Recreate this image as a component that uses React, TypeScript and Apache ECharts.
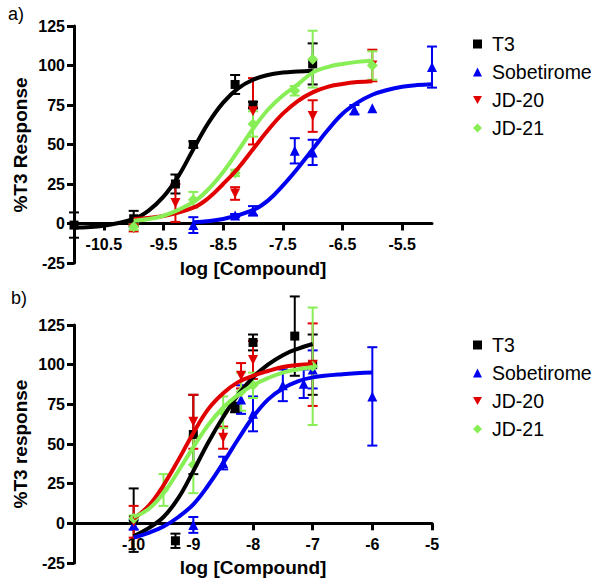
import React, { useEffect, useRef } from 'react';
import * as echarts from 'echarts';

// ---------- Panel a: data points ----------
const aT3X = [-11, -10, -9.3, -9, -8.3, -8, -7];
const aT3Y = [-1, 3, 25, 50, 88, 75, 101];
const aT3E = [8, 5, 6, 2, 6, 2, 13];
const aSobX = [-9, -8.3, -8, -7.3, -7, -6.3, -6, -5];
const aSobY = [-1, 5, 8, 46, 45, 72, 73, 99];
const aSobE = [5, 1, 3, 8, 8, 3, 0, 13];
const aJD20X = [-10, -9.3, -8.3, -8, -7, -6];
const aJD20Y = [-3, 13, 19, 71, 68, 100];
const aJD20E = [2, 12, 4, 21, 10, 10];
const aJD21X = [-10, -9, -8.3, -8, -7.3, -7, -6];
const aJD21Y = [-2, 15, 32, 63, 84, 104, 100];
const aJD21E = [2, 5, 2, 8, 3, 18, 9];

// ---------- Panel a: fitted curves ----------
const aT3CurveX = [-11, -10.5, -10, -9.75, -9.5, -9.25, -9, -8.75, -8.5, -8.25, -8, -7.75, -7.5, -7.25, -7];
const aT3CurveY = [-2.6, -1.4, 2.9, 8.2, 17, 30, 47, 63.5, 76.5, 85.5, 91, 94, 95.5, 96.2, 96.7];
const aMidCurveX = [-10, -9.5, -9, -8.75, -8.5, -8.25, -8, -7.75, -7.5, -7.25, -7, -6.75, -6.5, -6.25, -6];
const aJD21CurveY = [1.7, 4.9, 13.6, 21.6, 32.6, 46, 60, 72, 81, 88, 95.5, 99, 101, 102.3, 103];
const aJD20CurveY = [2.9, 4.7, 10, 16, 25, 35, 47, 59, 69.5, 77.5, 83, 86.5, 88.3, 89.5, 90.1];
const aSobCurveX = [-9, -8.5, -8, -7.75, -7.5, -7.25, -7, -6.75, -6.5, -6.25, -6, -5.75, -5.5, -5.25, -5];
const aSobCurveY = [0.8, 2.8, 8.5, 14.5, 24, 35, 47, 59, 69.5, 76.5, 81.5, 84.5, 86.5, 87.6, 88.2];

// ---------- Panel b: data points ----------
const bT3X = [-10, -9.3, -9, -8.3, -8, -7.3, -7];
const bT3Y = [2, -11, 56, 73, 114, 118, 100];
const bT3E = [20, 4.5, 25, 3, 5, 25, 19];
const bSobX = [-10, -9, -8.5, -8.2, -8, -7.5, -7.15, -7, -6];
const bSobY = [-1, -1, 38, 78, 69, 87, 88, 97, 80];
const bSobE = [3, 5, 4, 9, 11, 10, 9, 12, 31];
const bJD20X = [-10, -9, -8.5, -8.2, -8, -7];
const bJD20Y = [1, 64, 54, 93, 103, 100];
const bJD20E = [10, 17, 7, 8, 12, 26];
const bJD21X = [-10, -9.5, -9, -8.5, -8.2, -8, -7];
const bJD21Y = [3, 21, 37, 70, 83, 87, 99];
const bJD21E = [2, 10, 18, 10, 12, 8, 37];

// ---------- Panel b: fitted curves ----------
const bCurveX = [-10, -9.75, -9.5, -9.25, -9, -8.75, -8.5, -8.25, -8, -7.75, -7.5, -7.25, -7];
const bT3CurveY = [-8, -3, 4, 16, 33, 51, 67, 81, 92, 100, 106, 110, 113];
const bJD20CurveY = [3, 11, 24, 40, 57, 72, 82, 89, 93, 96, 98.5, 99.8, 100.5];
const bJD21CurveY = [4, 9, 19, 33, 48, 62, 73, 81, 87, 91.5, 95, 97, 98.5];
const bSobCurveX = [-10, -9.75, -9.5, -9.25, -9, -8.75, -8.5, -8.25, -8, -7.75, -7.5, -7.25, -7, -6.5, -6];
const bSobCurveY = [-9, -6, -2, 4, 12, 24, 38, 53, 67, 78, 85, 89.5, 92, 94, 95];

// ---------- Axes ----------
const aTicks = [-10.5, -9.5, -8.5, -7.5, -6.5, -5.5];
const bTicks = [-10, -9, -8, -7, -6, -5];
const xMin = -11;
const xMax = -5;
const yMin = -25;
const yMax = 125;
const yInterval = 25;
const xTitle = 'log [Compound]';
const yTitleA = '%T3 Response';
const yTitleB = '%T3 response';

const names = ['T3', 'Sobetirome', 'JD-20', 'JD-21'];
const colors = ['#000000', '#0000F0', '#E00000', '#88EE55'];
const symbols = ['rect', 'triangle', 'triangle', 'diamond'];
const rotations = [0, 0, 180, 0];
const sizes = [9, 10, 10, 11];

const FONT = 'Liberation Sans, Arial, sans-serif';

const zip = (xs: number[], ys: number[]) => xs.map((x, i) => [x, ys[i]]);
const zip3 = (xs: number[], ys: number[], es: number[]) => xs.map((x, i) => [x, ys[i], es[i]]);

// data x-axis (hidden) for a data grid
function dataXAxis(gridIndex: number) {
  return { type: 'value', gridIndex, min: xMin, max: xMax, show: false };
}

// visible x-axis drawn at the bottom of the upper (0..125) grid, i.e. at y = 0
function visXAxis(gridIndex: number, ticks: number[]) {
  return {
    type: 'value',
    gridIndex,
    position: 'bottom',
    min: xMin,
    max: xMax,
    axisLine: { show: true, onZero: false, lineStyle: { color: '#000', width: 3 } },
    axisTick: { show: true, length: 7, customValues: ticks, lineStyle: { color: '#000', width: 3 } },
    axisLabel: {
      customValues: ticks,
      color: '#000',
      fontWeight: 'bold',
      fontSize: 16,
      fontFamily: FONT,
      margin: 13,
    },
    splitLine: { show: false },
  };
}

function dataYAxis(gridIndex: number) {
  return {
    type: 'value',
    gridIndex,
    min: yMin,
    max: yMax,
    interval: yInterval,
    axisLine: { show: true, onZero: false, lineStyle: { color: '#000', width: 3 } },
    axisTick: { show: true, length: 7, lineStyle: { color: '#000', width: 3 } },
    axisLabel: { color: '#000', fontWeight: 'bold', fontSize: 16, fontFamily: FONT, margin: 9 },
    splitLine: { show: false },
  };
}

function hiddenYAxis(gridIndex: number) {
  return { type: 'value', gridIndex, min: 0, max: yMax, show: false };
}

function legend(top: number) {
  return {
    orient: 'vertical',
    left: 468,
    top,
    itemWidth: 9,
    itemHeight: 9,
    itemGap: 8,
    selectedMode: false,
    textStyle: { color: '#000', fontSize: 19.5, fontFamily: FONT, padding: [0, 0, 0, 5] },
    data: [
      { name: 'T3', icon: 'rect' },
      { name: 'Sobetirome', icon: 'triangle' },
      { name: 'JD-20', icon: 'path://M0,0L10,0L5,9Z' },
      { name: 'JD-21', icon: 'diamond' },
    ],
  };
}

function curve(g: number, k: number, xs: number[], ys: number[]) {
  return {
    type: 'line',
    xAxisIndex: g,
    yAxisIndex: g,
    data: zip(xs, ys),
    smooth: 0.4,
    symbol: 'none',
    showSymbol: false,
    silent: true,
    lineStyle: { color: colors[k], width: 4 },
    itemStyle: { color: colors[k] },
  };
}

function errBars(g: number, k: number, xs: number[], ys: number[], es: number[]) {
  const color = colors[k];
  return {
    type: 'custom',
    xAxisIndex: g,
    yAxisIndex: g,
    silent: true,
    encode: { x: 0, y: 1 },
    data: zip3(xs, ys, es),
    renderItem: (params: any, api: any) => {
      const x = api.value(0);
      const y = api.value(1);
      const e = api.value(2);
      if (!e) return { type: 'group', children: [] };
      const top = api.coord([x, y + e]);
      const bot = api.coord([x, y - e]);
      const w = 5;
      const st = { stroke: color, lineWidth: 2 };
      return {
        type: 'group',
        children: [
          { type: 'line', shape: { x1: top[0], y1: top[1], x2: bot[0], y2: bot[1] }, style: st },
          { type: 'line', shape: { x1: top[0] - w, y1: top[1], x2: top[0] + w, y2: top[1] }, style: st },
          { type: 'line', shape: { x1: bot[0] - w, y1: bot[1], x2: bot[0] + w, y2: bot[1] }, style: st },
        ],
      };
    },
  };
}

function points(g: number, k: number, xs: number[], ys: number[]) {
  return {
    type: 'scatter',
    name: names[k],
    xAxisIndex: g,
    yAxisIndex: g,
    data: zip(xs, ys),
    symbol: symbols[k],
    symbolRotate: rotations[k],
    symbolSize: sizes[k],
    silent: true,
    itemStyle: { color: colors[k], opacity: 1 },
  };
}

const titleStyle = (text: string) => ({
  text,
  fill: '#000',
  fontSize: 19,
  fontWeight: 'bold',
  fontFamily: FONT,
  align: 'center',
  verticalAlign: 'middle',
});

function buildOption() {
  const series: any[] = [
    // Panel a
    curve(0, 0, aT3CurveX, aT3CurveY),
    errBars(0, 0, aT3X, aT3Y, aT3E),
    points(0, 0, aT3X, aT3Y),
    curve(0, 1, aSobCurveX, aSobCurveY),
    errBars(0, 1, aSobX, aSobY, aSobE),
    points(0, 1, aSobX, aSobY),
    curve(0, 2, aMidCurveX, aJD20CurveY),
    errBars(0, 2, aJD20X, aJD20Y, aJD20E),
    points(0, 2, aJD20X, aJD20Y),
    curve(0, 3, aMidCurveX, aJD21CurveY),
    errBars(0, 3, aJD21X, aJD21Y, aJD21E),
    points(0, 3, aJD21X, aJD21Y),
    // Panel b
    curve(1, 0, bCurveX, bT3CurveY),
    errBars(1, 0, bT3X, bT3Y, bT3E),
    points(1, 0, bT3X, bT3Y),
    curve(1, 1, bSobCurveX, bSobCurveY),
    errBars(1, 1, bSobX, bSobY, bSobE),
    points(1, 1, bSobX, bSobY),
    curve(1, 2, bCurveX, bJD20CurveY),
    errBars(1, 2, bJD20X, bJD20Y, bJD20E),
    points(1, 2, bJD20X, bJD20Y),
    curve(1, 3, bCurveX, bJD21CurveY),
    errBars(1, 3, bJD21X, bJD21Y, bJD21E),
    points(1, 3, bJD21X, bJD21Y),
  ];
  return {
    animation: false,
    backgroundColor: '#ffffff',
    graphic: [
      { type: 'text', left: 8, top: 5, style: { text: 'a)', fontSize: 18, fontFamily: FONT, fill: '#000' } },
      { type: 'text', left: 11, top: 289, style: { text: 'b)', fontSize: 18, fontFamily: FONT, fill: '#000' } },
      { type: 'text', x: 253, y: 268, style: titleStyle(xTitle) },
      { type: 'text', x: 253, y: 567, style: titleStyle(xTitle) },
      { type: 'text', x: 20, y: 145, rotation: Math.PI / 2, style: titleStyle(yTitleA) },
      { type: 'text', x: 20, y: 444, rotation: Math.PI / 2, style: titleStyle(yTitleB) },
    ],
    grid: [
      // data grids (y from -25 to 125)
      { left: 74, top: 26, width: 358, height: 237, outerBoundsMode: 'none' },
      { left: 74, top: 325, width: 358, height: 238, outerBoundsMode: 'none' },
      // x-axis grids (y from 0 to 125, bottom edge at y = 0)
      { left: 74, top: 26, width: 358, height: 197.5, outerBoundsMode: 'none' },
      { left: 74, top: 325, width: 358, height: 198.3, outerBoundsMode: 'none' },
    ],
    xAxis: [dataXAxis(0), dataXAxis(1), visXAxis(2, aTicks), visXAxis(3, bTicks)],
    yAxis: [dataYAxis(0), dataYAxis(1), hiddenYAxis(2), hiddenYAxis(3)],
    legend: [legend(29), legend(330)],
    series,
  };
}

export default function App() {
  const ref = useRef<HTMLDivElement>(null);
  useEffect(() => {
    if (!ref.current) return;
    const chart = echarts.init(ref.current, null, { renderer: 'svg' });
    chart.setOption(buildOption() as any);
    return () => chart.dispose();
  }, []);
  return (
    <div
      ref={ref}
      style={{ position: 'fixed', left: 0, top: 0, width: 601, height: 586, background: '#fff' }}
    />
  );
}
